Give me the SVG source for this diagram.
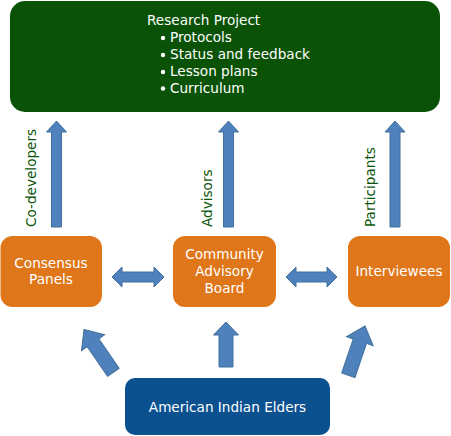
<svg xmlns="http://www.w3.org/2000/svg" width="451" height="436" viewBox="0 0 451 436">
<defs>
<style>
.t{font-family:"DejaVu Sans","Verdana",sans-serif;font-size:13.6px;fill:#ffffff}
.c{text-anchor:middle}
.lbl{font-family:"DejaVu Sans","Verdana",sans-serif;font-size:13.6px;fill:#0b560b}
.arr{fill:#4f81bd;stroke:#41719c;stroke-width:1}
.org{fill:#df761a}
</style>
<path id="upArrow" d="M0,0 L10,11 L5,11 L5,106 L-5,106 L-5,11 L-10,11 Z"/>
<path id="bigArrow" d="M0,0 L14,16 L7,16 L7,52 L-7,52 L-7,16 L-14,16 Z"/>
</defs>
<rect width="451" height="436" fill="#ffffff"/>

<g id="connectors">
<use href="#upArrow" class="arr" transform="translate(56.5,121)"/>
<use href="#upArrow" class="arr" transform="translate(228.5,121)"/>
<use href="#upArrow" class="arr" transform="translate(395,121)"/>
<path class="arr" d="M112,277 L122,267 L122,272 L154,272 L154,267 L164,277 L154,287 L154,282 L122,282 L122,287 Z"/>
<path class="arr" d="M286,277 L296,267 L296,272 L327,272 L327,267 L337,277 L327,287 L327,282 L296,282 L296,287 Z"/>
<path class="arr" d="M226,322 L238.5,335 L233,335 L233,367 L219,367 L219,335 L213.5,335 Z"/>
<use href="#bigArrow" class="arr" transform="translate(84,329.5) rotate(-34.4)"/>
<use href="#bigArrow" class="arr" transform="translate(365,326) rotate(18.7)"/>
<text class="lbl" transform="translate(36,227) rotate(-90)">Co-developers</text>
<text class="lbl" transform="translate(211.5,227) rotate(-90)">Advisors</text>
<text class="lbl" transform="translate(375,227) rotate(-90)">Participants</text>
</g>

<g id="research-project">
<rect x="10" y="1" width="430" height="111" rx="15" fill="#0a5306"/>
<text class="t" x="147" y="25">Research Project</text>
<g>
<circle cx="163" cy="38" r="2.2" fill="#fff"/>
<circle cx="163" cy="55" r="2.2" fill="#fff"/>
<circle cx="163" cy="72" r="2.2" fill="#fff"/>
<circle cx="163" cy="88.5" r="2.2" fill="#fff"/>
</g>
<text class="t" x="170" y="42">Protocols</text>
<text class="t" x="170" y="59">Status and feedback</text>
<text class="t" x="170" y="76">Lesson plans</text>
<text class="t" x="170" y="92.5">Curriculum</text>
</g>

<g id="consensus-panels">
<rect class="org" x="0.5" y="236" width="101.5" height="71" rx="12"/>
<text class="t c" x="51" y="268">Consensus</text>
<text class="t c" x="51" y="284">Panels</text>
</g>

<g id="community-advisory-board">
<rect class="org" x="173" y="236" width="103" height="71" rx="12"/>
<text class="t c" x="224.5" y="259">Community</text>
<text class="t c" x="224.5" y="276">Advisory</text>
<text class="t c" x="224.5" y="293">Board</text>
</g>

<g id="interviewees">
<rect class="org" x="348" y="236" width="102" height="71" rx="12"/>
<text class="t c" x="399" y="276">Interviewees</text>
</g>

<g id="american-indian-elders">
<rect x="125" y="378" width="205" height="57" rx="10" fill="#0b5190"/>
<text class="t c" x="227.5" y="412">American Indian Elders</text>
</g>
</svg>
